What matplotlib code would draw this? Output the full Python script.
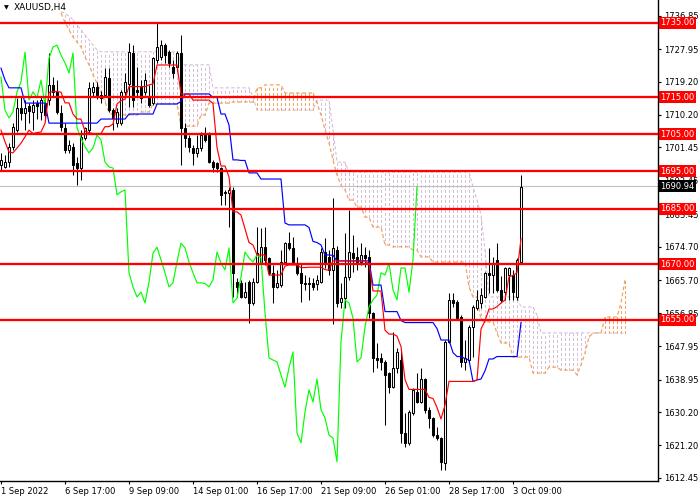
import numpy as np
import pandas as pd
import matplotlib
matplotlib.use("Agg")
import matplotlib.pyplot as plt
from matplotlib.transforms import blended_transform_factory, ScaledTranslation

nan = np.nan

# ---------------- data ----------------
opens = [1696.7, 1696.2, 1697.5, 1701.6, 1706.1, 1712.1, 1710.7, 1712.6, 1711.0, 1713.4,
         1711.0, 1713.4, 1714.2, 1718.3, 1716.4, 1710.7, 1706.7, 1700.8, 1701.6, 1697.3,
         1695.9, 1704.0, 1706.1, 1716.4, 1717.7, 1715.6, 1715.6, 1720.2, 1711.5, 1708.0,
         1708.0, 1716.4, 1718.5, 1726.9, 1716.9, 1717.7, 1716.4, 1715.0, 1713.4, 1725.0,
         1725.8, 1729.0, 1727.1, 1723.1, 1723.1, 1726.9, 1706.7, 1704.0, 1701.3, 1700.0,
         1701.3, 1704.8, 1704.8, 1697.5, 1697.3, 1695.9, 1689.2, 1689.2, 1690.0, 1665.2,
         1665.0, 1661.2, 1665.2, 1659.6, 1665.2, 1670.6, 1674.6, 1671.7, 1667.7, 1663.9,
         1664.4, 1670.6, 1675.7, 1674.4, 1670.3, 1667.7, 1664.7, 1665.0, 1665.0, 1664.8,
         1665.2, 1673.3, 1672.0, 1668.5, 1673.8, 1659.8, 1660.9, 1666.6, 1673.0, 1672.0,
         1670.6, 1672.5, 1672.0, 1656.9, 1644.8, 1644.8, 1643.7, 1640.7, 1636.9, 1642.1,
         1644.2, 1624.6, 1621.9, 1630.0, 1635.6, 1632.9, 1639.1, 1630.8, 1628.6, 1624.0,
         1623.2, 1616.5, 1649.1, 1660.4, 1659.8, 1655.8, 1643.7, 1644.2, 1653.1, 1658.2,
         1659.6, 1661.2, 1667.7, 1667.1, 1671.2, 1663.1, 1662.5, 1667.1, 1667.1, 1661.2,
         1670.6]
highs = [1700.0, 1699.4, 1702.6, 1708.0, 1714.8, 1715.0, 1714.2, 1713.4, 1714.2, 1714.2,
         1715.0, 1715.0, 1726.9, 1720.4, 1719.6, 1713.0, 1708.0, 1703.5, 1702.6, 1698.9,
         1706.1, 1707.0, 1719.1, 1719.1, 1719.1, 1716.6, 1722.8, 1722.8, 1712.1, 1712.1,
         1716.9, 1721.5, 1729.6, 1729.0, 1723.1, 1719.6, 1721.5, 1718.3, 1725.8, 1735.0,
         1730.4, 1729.6, 1727.7, 1725.0, 1727.4, 1731.7, 1708.0, 1704.8, 1702.1, 1704.8,
         1705.5, 1707.0, 1705.6, 1698.1, 1697.5, 1696.2, 1690.0, 1690.8, 1690.8, 1666.3,
         1665.8, 1665.2, 1665.8, 1666.3, 1680.0, 1679.7, 1680.0, 1672.0, 1669.8, 1668.5,
         1673.8, 1676.0, 1678.6, 1677.3, 1672.0, 1670.3, 1667.1, 1666.6, 1666.3, 1667.1,
         1674.4, 1677.0, 1673.8, 1687.8, 1674.9, 1665.0, 1678.4, 1684.6, 1677.8, 1674.6,
         1675.7, 1674.6, 1673.8, 1657.1, 1648.8, 1646.1, 1644.2, 1641.0, 1651.8, 1647.5,
         1646.9, 1630.0, 1630.8, 1636.7, 1640.7, 1642.1, 1639.4, 1631.6, 1628.9, 1626.2,
         1623.5, 1649.6, 1662.3, 1662.3, 1660.4, 1656.3, 1649.6, 1653.6, 1659.0, 1663.1,
         1663.6, 1668.0, 1674.4, 1672.0, 1675.7, 1666.8, 1669.3, 1669.3, 1668.5, 1671.7,
         1694.0]
lows = [1695.4, 1695.9, 1696.2, 1700.8, 1705.6, 1708.9, 1706.1, 1708.0, 1706.1, 1709.0,
        1708.9, 1708.5, 1712.9, 1715.0, 1710.5, 1705.8, 1700.0, 1700.0, 1694.0, 1691.3,
        1692.7, 1703.5, 1705.3, 1715.0, 1714.5, 1713.5, 1715.0, 1711.0, 1706.1, 1707.0,
        1707.5, 1715.6, 1712.3, 1712.3, 1715.0, 1713.5, 1715.6, 1712.3, 1712.9, 1724.2,
        1725.0, 1724.2, 1723.1, 1720.2, 1722.0, 1696.7, 1701.6, 1700.2, 1696.7, 1698.9,
        1700.5, 1703.0, 1697.3, 1694.9, 1694.9, 1685.9, 1685.9, 1680.0, 1661.2, 1661.2,
        1660.9, 1660.9, 1654.2, 1659.0, 1665.0, 1669.8, 1669.8, 1667.1, 1659.6, 1663.6,
        1663.9, 1670.3, 1673.8, 1670.3, 1667.1, 1659.8, 1663.1, 1660.4, 1663.1, 1663.1,
        1665.0, 1669.0, 1667.1, 1654.0, 1658.5, 1658.2, 1658.2, 1665.8, 1667.9, 1668.5,
        1669.8, 1669.3, 1655.5, 1641.0, 1642.1, 1641.5, 1626.7, 1635.3, 1636.7, 1640.7,
        1621.9, 1620.8, 1621.3, 1629.4, 1632.7, 1632.7, 1630.0, 1626.0, 1623.5, 1622.7,
        1614.6, 1614.6, 1648.8, 1658.5, 1655.0, 1642.3, 1641.5, 1643.4, 1645.0, 1657.7,
        1658.2, 1660.9, 1662.3, 1662.3, 1662.5, 1659.8, 1660.4, 1660.4, 1660.4, 1660.4,
        1670.6]
closes = [1698.1, 1697.5, 1701.6, 1707.0, 1712.1, 1710.7, 1712.1, 1711.3, 1712.9, 1712.6,
          1714.2, 1710.2, 1718.3, 1716.4, 1711.0, 1707.0, 1700.8, 1702.1, 1696.7, 1695.9,
          1704.3, 1706.7, 1717.5, 1717.7, 1715.6, 1714.8, 1720.4, 1711.5, 1709.4, 1711.0,
          1716.4, 1719.1, 1727.1, 1714.2, 1716.4, 1714.8, 1719.6, 1712.9, 1725.5, 1728.5,
          1729.0, 1726.3, 1724.2, 1721.5, 1726.9, 1706.7, 1704.0, 1701.6, 1700.0, 1701.3,
          1704.8, 1703.5, 1697.5, 1696.2, 1695.9, 1688.7, 1689.5, 1690.0, 1667.7, 1663.9,
          1661.2, 1662.5, 1659.6, 1665.2, 1673.0, 1674.6, 1671.2, 1667.7, 1663.9, 1665.0,
          1670.6, 1675.7, 1674.4, 1670.6, 1667.7, 1665.0, 1665.0, 1664.8, 1663.9, 1665.8,
          1673.3, 1670.3, 1668.5, 1674.4, 1659.6, 1660.9, 1666.6, 1673.3, 1671.7, 1670.6,
          1672.5, 1671.7, 1656.9, 1644.8, 1644.2, 1643.7, 1640.2, 1636.9, 1642.1, 1646.4,
          1624.6, 1621.9, 1630.2, 1636.2, 1632.9, 1639.1, 1630.8, 1628.6, 1624.0, 1623.2,
          1616.8, 1649.1, 1660.4, 1659.6, 1655.5, 1643.7, 1644.8, 1653.1, 1658.5, 1660.4,
          1661.7, 1667.7, 1667.1, 1670.3, 1663.1, 1660.4, 1669.0, 1669.0, 1662.5, 1671.2,
          1690.9]

# indicator values at the start of the window (they depend on bars before 1 Sep)
tenkan_early = [1706.1, 1703.0, 1700.2, 1700.0, 1701.3, 1702.6, 1704.3, 1706.1]
kijun_early = ([1722.8, 1719.6] + [1717.5] * 4 + [1713.4] * 6 + [1708.0] * 13)

# Senkou spans, read per bar (bar 0 .. bar 156, 26 bars beyond the last candle)
span_a = ([nan] * 15 +
          [1737.6, 1735.2, 1733.1, 1731.2, 1729.8, 1728.5, 1725.8, 1723.7, 1721.0,
           1718.8, 1716.4, 1713.7, 1711.0] +
          [1710.2] * 7 + [1711.0] * 3 + [1713.2] * 7 + [1707.2] * 5 + [1710.2] * 2 +
          [1713.4] * 6 + [1713.7] * 6 + [1717.5] * 2 + [1718.3] * 5 + [1716.1] * 8 +
          [1713.4, 1710.2, 1706.2, 1702.7, 1698.1, 1694.0, 1691.3, 1690.0] +
          [1687.3] * 2 + [1685.4] * 2 + [1682.7] * 2 + [1680.0] * 3 + [1675.2] * 2 +
          [1674.7] * 5 + [1673.8] * 2 + [1672.0] * 3 + [1670.6] * 9 +
          [1663.9] + [1661.2] * 2 + [1655.0] + [1654.5] * 3 + [1651.5] + [1648.8] * 3 +
          [1645.0] * 5 + [1640.7] * 4 + [1642.3] * 3 + [1641.5] * 4 +
          [1640.2, 1642.9, 1646.1, 1650.4] + [1651.5] * 3 + [1655.8] * 4 + [1659.6, 1665.8])
span_b = ([nan] * 15 +
          [1737.9, 1737.6, 1736.8, 1735.8, 1734.4, 1733.1, 1731.7, 1730.4, 1729.0, 1727.7] +
          [1727.2] * 20 + [1723.7] * 8 + [1717.5] * 10 + [1715.0] + [1711.5] * 15 +
          [1714.2] * 4 + [1706.2] + [1697.5] * 3 + [1694.8] * 31 +
          [1690.8, 1687.3, 1683.3, 1673.8] + [1661.2] * 8 + [1658.5] * 4 + [1656.3] +
          [1651.5] * 22)

levels = [1735.0, 1715.0, 1705.0, 1695.0, 1685.0, 1670.0, 1655.0]
last_price = 1690.94
y_ticks = [1612.45, 1621.20, 1630.20, 1638.95, 1647.95, 1656.85, 1665.70, 1674.70,
           1683.45, 1692.45, 1701.45, 1710.20, 1719.20, 1727.95, 1736.85]
x_tick_bars = [0, 16, 32, 48, 64, 80, 96, 112, 128]
x_tick_labels = ["1 Sep 2022", "6 Sep 17:00", "9 Sep 09:00", "14 Sep 01:00", "16 Sep 17:00",
                 "21 Sep 09:00", "26 Sep 01:00", "28 Sep 17:00", "3 Oct 09:00"]
title = "XAUUSD,H4"

# ---------------- derived series ----------------
n = len(closes)
assert len(opens) == len(highs) == len(lows) == n
assert len(span_a) == len(span_b) == n + 26
o = np.array(opens); c = np.array(closes); hi = np.array(highs); lo = np.array(lows)
bars = np.arange(n)
hs = pd.Series(hi); ls = pd.Series(lo)
tenkan = ((hs.rolling(9).max() + ls.rolling(9).min()) / 2).to_numpy()
tenkan[:len(tenkan_early)] = tenkan_early
kijun = ((hs.rolling(26).max() + ls.rolling(26).min()) / 2).to_numpy()
kijun[:len(kijun_early)] = kijun_early
chikou = c[26:]
chikou_x = np.arange(len(chikou))
sa = np.array(span_a, dtype=float); sb = np.array(span_b, dtype=float)
cloud_x = np.arange(len(sa))

# ---------------- figure ----------------
fig = plt.figure(figsize=(7, 5), dpi=100)
ax = fig.add_axes([0.0, 0.038, 0.94, 0.962])
ax.set_facecolor("white")

SANDY = "#F4A460"
THISTLE = "#D8BFD8"

# cloud hatch (vertical dotted lines per bar)
valid = ~np.isnan(sa) & ~np.isnan(sb)
up = valid & (sa >= sb)
dn = valid & (sa < sb)
ax.vlines(cloud_x[dn], sa[dn], sb[dn], colors=THISTLE, linewidth=0.72,
          linestyles=(0, (2.5, 2.5)), antialiased=False, zorder=1)
ax.vlines(cloud_x[up], sb[up], sa[up], colors=SANDY, linewidth=0.72,
          linestyles=(0, (2.5, 2.5)), antialiased=False, zorder=1)
ax.plot(cloud_x, sb, color=THISTLE, lw=0.8, ls=(0, (3, 2)), zorder=1.2)
ax.plot(cloud_x, sa, color=SANDY, lw=0.9, ls=(0, (3, 2)), zorder=1.3)

# current price line
ax.axhline(last_price, color="#C0C0C0", lw=0.8, zorder=1.5)

# candles
ax.vlines(bars, lo, hi, colors="black", linewidth=0.75, zorder=2)
bull = c >= o
body_h = np.abs(c - o)
body_h = np.where(body_h < 0.25, 0.25, body_h)
ax.bar(bars[bull], body_h[bull], bottom=np.minimum(o, c)[bull], width=0.5,
       color="white", edgecolor="black", linewidth=0.75, zorder=3)
ax.bar(bars[~bull], body_h[~bull], bottom=np.minimum(o, c)[~bull], width=0.5,
       color="black", edgecolor="black", linewidth=0.75, zorder=3)

# Ichimoku lines
ax.plot(chikou_x, chikou, color="#00FF00", lw=0.85, zorder=4)
ax.plot(bars, kijun, color="#0000FF", lw=0.85, zorder=4)
ax.plot(bars, tenkan, color="#FF0000", lw=0.85, zorder=4.1)

# horizontal levels
for lv in levels:
    ax.axhline(lv, color="#FF0000", lw=1.65, zorder=5)

ax.set_xlim(-0.25, 164.25)
ax.set_ylim(1611.64, 1741.15)

# axes styling
for s in ["top", "left"]:
    ax.spines[s].set_visible(False)
for s in ["right", "bottom"]:
    ax.spines[s].set_color("black")
    ax.spines[s].set_linewidth(1.0)

ax.yaxis.tick_right()
ax.set_yticks(y_ticks)
ax.set_yticklabels([f"{v:.2f}" for v in y_ticks])
ax.tick_params(axis="y", direction="out", length=2.5, width=0.8, pad=2.0,
               labelsize=6, colors="black")
ax.set_xticks(x_tick_bars)
ax.set_xticklabels(x_tick_labels)
ax.tick_params(axis="x", direction="out", length=2.5, width=0.8, pad=1.5,
               labelsize=6, colors="black")
for lab in ax.get_xticklabels():
    lab.set_horizontalalignment("left")

# right-side price labels (drawn over the axis tick labels, as in the terminal)
tr = blended_transform_factory(ax.transAxes, ax.transData) + \
    ScaledTranslation(2.5 / 100, 0, fig.dpi_scale_trans)
for lv in levels:
    ax.text(1.0, lv, f"{lv:.2f}", transform=tr, ha="left", va="center", fontsize=6,
            color="white", zorder=10, clip_on=False,
            bbox=dict(boxstyle="square,pad=0.18", fc="#FF0000", ec="none"))
ax.text(1.0, last_price, f"{last_price:.2f}", transform=tr, ha="left", va="center",
        fontsize=6, color="white", zorder=10, clip_on=False,
        bbox=dict(boxstyle="square,pad=0.18", fc="black", ec="none"))

# chart title
fig.text(4 / 700, 1 - 7.5 / 500, "\u25BC", fontsize=4.5, ha="left", va="center", color="black")
fig.text(14 / 700, 1 - 7.5 / 500, title, fontsize=6.5, ha="left", va="center", color="black")

fig.savefig("out.png", dpi=100)
